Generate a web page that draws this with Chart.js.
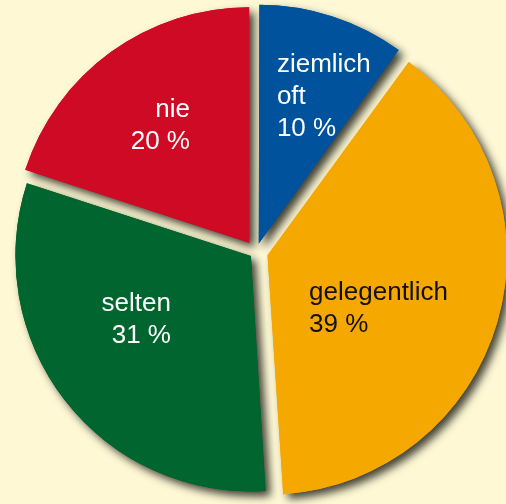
<!DOCTYPE html>
<html>
<head>
<meta charset="utf-8">
<script src="https://cdn.jsdelivr.net/npm/chart.js@4/dist/chart.umd.min.js"></script>
<style>
  html, body { margin: 0; padding: 0; background: #FEF8D4; }
  #wrap { width: 506px; height: 504px; }
</style>
</head>
<body>
<div id="wrap"><canvas id="c" width="506" height="504"></canvas></div>
<script>
const categories = ["ziemlich oft", "gelegentlich", "selten", "nie"];
const labelLines = [["ziemlich", "oft", "10 %"], ["gelegentlich", "39 %"], ["selten", "31 %"], ["nie", "20 %"]];
const values = [10, 39, 31, 20];
const colors = ["#00529C", "#F5A800", "#00652E", "#CE0A24"];
const textColors = ["#FFFFFF", "#111111", "#FFFFFF", "#FFFFFF"];
// Chart.js v4 draws an arc's offset at one quarter of the option value
const offsets = [36, 48, 26, 46];
// label anchors relative to pie centre, in units of the radius
const labelPos = [
  { dx: 0.089, dy: -0.766, align: "left" },
  { dx: 0.226, dy: 0.204, align: "left" },
  { dx: -0.362, dy: 0.251, align: "right" },
  { dx: -0.281, dy: -0.574, align: "right" }
];

const shadowPlugin = {
  id: "shadow",
  beforeDatasetsDraw(chart) {
    const ctx = chart.ctx;
    ctx.save();
    ctx.shadowColor = "rgba(45,45,35,0.9)";
    ctx.shadowBlur = 9;
    ctx.shadowOffsetX = 5;
    ctx.shadowOffsetY = 5;
    chart.getDatasetMeta(0).data.forEach(a => a.draw(ctx));
    ctx.restore();
  }
};

const labelPlugin = {
  id: "sliceLabels",
  afterDatasetsDraw(chart) {
    const ctx = chart.ctx;
    chart.getDatasetMeta(0).data.forEach((arc, i) => {
      const p = arc.getProps(["x", "y", "outerRadius"], true);
      const lp = labelPos[i];
      const ax = p.x + lp.dx * p.outerRadius;
      const ay = p.y + lp.dy * p.outerRadius;
      ctx.save();
      ctx.font = "26px 'Liberation Sans', Arial, sans-serif";
      ctx.fillStyle = textColors[i];
      ctx.textAlign = lp.align;
      ctx.textBaseline = "alphabetic";
      labelLines[i].forEach((t, k) => ctx.fillText(t, ax, ay + k * 32));
      ctx.restore();
    });
  }
};

new Chart(document.getElementById("c"), {
  type: "pie",
  data: {
    labels: categories,
    datasets: [{
      data: values,
      backgroundColor: colors,
      borderWidth: 0,
      offset: offsets,
      clip: false
    }]
  },
  options: {
    responsive: false,
    animation: false,
    radius: 235,
    layout: { padding: { left: 6, right: 0, top: 0, bottom: 0 } },
    plugins: { legend: { display: false }, tooltip: { enabled: false } }
  },
  plugins: [shadowPlugin, labelPlugin]
});
</script>
</body>
</html>
